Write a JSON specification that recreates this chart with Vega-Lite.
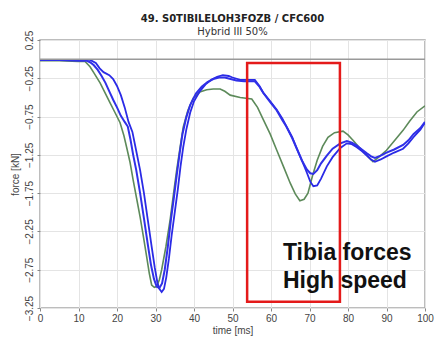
{
  "$schema": "https://vega.github.io/schema/vega-lite/v6.json",
  "width": 385,
  "height": 268,
  "autosize": {"type": "none"},
  "padding": {"left": 40, "top": 40, "right": 20, "bottom": 32},
  "background": "white",
  "config": {
    "font": "Liberation Sans",
    "view": {"stroke": "#a8a8a8", "strokeWidth": 1.5},
    "axis": {"grid": true, "gridColor": "#e4e4e4", "gridWidth": 1, "domain": false, "tickColor": "#888", "tickSize": 3, "labelColor": "#444", "labelFontSize": 10, "labelOverlap": false, "labelFlush": false, "titleColor": "#444", "titleFontSize": 10, "titleFontWeight": "normal"}
  },
  "title": {"text": "49. S0TIBILELOH3FOZB / CFC600", "subtitle": "Hybrid III 50%", "font": "DejaVu Sans", "subtitleFont": "DejaVu Sans", "fontSize": 10, "fontWeight": "bold", "color": "#222", "subtitleFontSize": 10, "subtitleColor": "#333", "anchor": "middle", "offset": -7, "subtitlePadding": 3},
  "datasets": {
    "curves": [
      {"s":"G","t":0,"f":-0.02},{"s":"G","t":5,"f":-0.02},{"s":"G","t":10,"f":-0.03},{"s":"G","t":11.7,"f":-0.03},{"s":"G","t":13,"f":-0.10},{"s":"G","t":14,"f":-0.18},{"s":"G","t":15.6,"f":-0.31},{"s":"G","t":17,"f":-0.45},{"s":"G","t":18.2,"f":-0.57},{"s":"G","t":19.5,"f":-0.70},{"s":"G","t":20.8,"f":-0.83},{"s":"G","t":21.8,"f":-1.0},{"s":"G","t":22.5,"f":-1.15},{"s":"G","t":23.4,"f":-1.35},{"s":"G","t":24.2,"f":-1.58},{"s":"G","t":25.1,"f":-1.82},{"s":"G","t":26,"f":-2.06},{"s":"G","t":26.9,"f":-2.33},{"s":"G","t":27.7,"f":-2.58},{"s":"G","t":28.4,"f":-2.80},{"s":"G","t":29,"f":-2.95},{"s":"G","t":29.7,"f":-2.98},{"s":"G","t":30.3,"f":-2.97},{"s":"G","t":31,"f":-2.88},{"s":"G","t":31.6,"f":-2.75},{"s":"G","t":32.7,"f":-2.45},{"s":"G","t":33.8,"f":-2.1},{"s":"G","t":34.7,"f":-1.75},{"s":"G","t":35.5,"f":-1.45},{"s":"G","t":36.4,"f":-1.15},{"s":"G","t":37.2,"f":-0.89},{"s":"G","t":38.4,"f":-0.67},{"s":"G","t":39.8,"f":-0.51},{"s":"G","t":41.5,"f":-0.43},{"s":"G","t":43.3,"f":-0.40},{"s":"G","t":45,"f":-0.39},{"s":"G","t":46.8,"f":-0.39},{"s":"G","t":48,"f":-0.42},{"s":"G","t":49.4,"f":-0.47},{"s":"G","t":52,"f":-0.50},{"s":"G","t":55,"f":-0.52},{"s":"G","t":56.5,"f":-0.63},{"s":"G","t":58,"f":-0.79},{"s":"G","t":59.8,"f":-0.98},{"s":"G","t":61.5,"f":-1.19},{"s":"G","t":63.3,"f":-1.41},{"s":"G","t":65,"f":-1.62},{"s":"G","t":66.3,"f":-1.76},{"s":"G","t":67.5,"f":-1.85},{"s":"G","t":68.6,"f":-1.83},{"s":"G","t":69.6,"f":-1.75},{"s":"G","t":70.8,"f":-1.52},{"s":"G","t":72,"f":-1.32},{"s":"G","t":73.4,"f":-1.14},{"s":"G","t":74.8,"f":-1.02},{"s":"G","t":76.5,"f":-0.96},{"s":"G","t":78.7,"f":-0.94},{"s":"G","t":80,"f":-0.99},{"s":"G","t":81.3,"f":-1.06},{"s":"G","t":82.7,"f":-1.14},{"s":"G","t":84,"f":-1.21},{"s":"G","t":85.3,"f":-1.28},{"s":"G","t":86.5,"f":-1.34},{"s":"G","t":88,"f":-1.28},{"s":"G","t":90,"f":-1.19},{"s":"G","t":92,"f":-1.07},{"s":"G","t":94.3,"f":-0.93},{"s":"G","t":96,"f":-0.81},{"s":"G","t":97.9,"f":-0.69},{"s":"G","t":100,"f":-0.61},

      {"s":"A","t":0,"f":-0.01},{"s":"A","t":5,"f":-0.01},{"s":"A","t":10,"f":-0.01},{"s":"A","t":13,"f":-0.01},{"s":"A","t":14.5,"f":-0.05},{"s":"A","t":15.5,"f":-0.12},{"s":"A","t":16.5,"f":-0.17},{"s":"A","t":18,"f":-0.21},{"s":"A","t":19,"f":-0.26},{"s":"A","t":20,"f":-0.35},{"s":"A","t":21,"f":-0.47},{"s":"A","t":22,"f":-0.63},{"s":"A","t":23,"f":-0.82},{"s":"A","t":24,"f":-0.95},{"s":"A","t":25,"f":-1.2},{"s":"A","t":26,"f":-1.45},{"s":"A","t":27,"f":-1.75},{"s":"A","t":28,"f":-2.1},{"s":"A","t":29,"f":-2.45},{"s":"A","t":29.8,"f":-2.72},{"s":"A","t":30.5,"f":-2.92},{"s":"A","t":31,"f":-3.0},{"s":"A","t":31.6,"f":-3.04},{"s":"A","t":32.2,"f":-3.0},{"s":"A","t":32.8,"f":-2.85},{"s":"A","t":33.5,"f":-2.6},{"s":"A","t":34.2,"f":-2.3},{"s":"A","t":35,"f":-2.0},{"s":"A","t":35.8,"f":-1.7},{"s":"A","t":36.5,"f":-1.4},{"s":"A","t":37.2,"f":-1.15},{"s":"A","t":38,"f":-0.92},{"s":"A","t":39,"f":-0.7},{"s":"A","t":40,"f":-0.55},{"s":"A","t":41.5,"f":-0.42},{"s":"A","t":43,"f":-0.33},{"s":"A","t":44.5,"f":-0.27},{"s":"A","t":46,"f":-0.23},{"s":"A","t":47.5,"f":-0.21},{"s":"A","t":49,"f":-0.22},{"s":"A","t":50,"f":-0.24},{"s":"A","t":52,"f":-0.27},{"s":"A","t":54,"f":-0.27},{"s":"A","t":55.8,"f":-0.27},{"s":"A","t":57,"f":-0.35},{"s":"A","t":58,"f":-0.44},{"s":"A","t":59.8,"f":-0.55},{"s":"A","t":61.5,"f":-0.66},{"s":"A","t":63,"f":-0.78},{"s":"A","t":64,"f":-0.88},{"s":"A","t":65.5,"f":-1.02},{"s":"A","t":66.8,"f":-1.18},{"s":"A","t":68,"f":-1.32},{"s":"A","t":69.3,"f":-1.48},{"s":"A","t":70.2,"f":-1.6},{"s":"A","t":71,"f":-1.66},{"s":"A","t":72,"f":-1.65},{"s":"A","t":73,"f":-1.56},{"s":"A","t":74.5,"f":-1.4},{"s":"A","t":76,"f":-1.28},{"s":"A","t":78,"f":-1.16},{"s":"A","t":79.7,"f":-1.1},{"s":"A","t":81,"f":-1.11},{"s":"A","t":82.3,"f":-1.15},{"s":"A","t":83.6,"f":-1.2},{"s":"A","t":84.9,"f":-1.26},{"s":"A","t":86,"f":-1.31},{"s":"A","t":87,"f":-1.34},{"s":"A","t":88.5,"f":-1.31},{"s":"A","t":90,"f":-1.27},{"s":"A","t":92,"f":-1.22},{"s":"A","t":94.3,"f":-1.17},{"s":"A","t":95.7,"f":-1.1},{"s":"A","t":97,"f":-1.02},{"s":"A","t":98.8,"f":-0.92},{"s":"A","t":100,"f":-0.83},

      {"s":"B","t":0,"f":-0.01},{"s":"B","t":5,"f":-0.01},{"s":"B","t":10,"f":-0.02},{"s":"B","t":12,"f":-0.02},{"s":"B","t":13,"f":-0.04},{"s":"B","t":14,"f":-0.08},{"s":"B","t":15,"f":-0.14},{"s":"B","t":16,"f":-0.22},{"s":"B","t":17,"f":-0.31},{"s":"B","t":18,"f":-0.42},{"s":"B","t":19,"f":-0.53},{"s":"B","t":20,"f":-0.63},{"s":"B","t":21,"f":-0.74},{"s":"B","t":22,"f":-0.82},{"s":"B","t":22.8,"f":-0.88},{"s":"B","t":23.5,"f":-1.05},{"s":"B","t":24.2,"f":-1.25},{"s":"B","t":25,"f":-1.45},{"s":"B","t":26,"f":-1.75},{"s":"B","t":27,"f":-2.08},{"s":"B","t":28,"f":-2.42},{"s":"B","t":28.8,"f":-2.68},{"s":"B","t":29.6,"f":-2.87},{"s":"B","t":30.3,"f":-2.97},{"s":"B","t":31,"f":-2.99},{"s":"B","t":31.7,"f":-2.93},{"s":"B","t":32.4,"f":-2.75},{"s":"B","t":33.2,"f":-2.45},{"s":"B","t":34,"f":-2.1},{"s":"B","t":34.8,"f":-1.8},{"s":"B","t":35.5,"f":-1.52},{"s":"B","t":36.3,"f":-1.22},{"s":"B","t":37,"f":-0.98},{"s":"B","t":38,"f":-0.76},{"s":"B","t":39,"f":-0.6},{"s":"B","t":40.5,"f":-0.45},{"s":"B","t":42,"f":-0.36},{"s":"B","t":43.5,"f":-0.3},{"s":"B","t":45,"f":-0.26},{"s":"B","t":46.5,"f":-0.24},{"s":"B","t":48,"f":-0.24},{"s":"B","t":49.5,"f":-0.26},{"s":"B","t":51,"f":-0.28},{"s":"B","t":53,"f":-0.29},{"s":"B","t":55.8,"f":-0.29},{"s":"B","t":57,"f":-0.36},{"s":"B","t":58,"f":-0.44},{"s":"B","t":59.8,"f":-0.56},{"s":"B","t":61.5,"f":-0.67},{"s":"B","t":63,"f":-0.8},{"s":"B","t":64,"f":-0.88},{"s":"B","t":65.5,"f":-1.03},{"s":"B","t":66.8,"f":-1.18},{"s":"B","t":68,"f":-1.32},{"s":"B","t":69.3,"f":-1.44},{"s":"B","t":70.2,"f":-1.49},{"s":"B","t":71,"f":-1.5},{"s":"B","t":72,"f":-1.45},{"s":"B","t":73,"f":-1.36},{"s":"B","t":74.5,"f":-1.26},{"s":"B","t":76,"f":-1.17},{"s":"B","t":78,"f":-1.1},{"s":"B","t":79.7,"f":-1.07},{"s":"B","t":81,"f":-1.09},{"s":"B","t":82.3,"f":-1.13},{"s":"B","t":83.6,"f":-1.18},{"s":"B","t":84.9,"f":-1.23},{"s":"B","t":86,"f":-1.27},{"s":"B","t":87,"f":-1.29},{"s":"B","t":88.5,"f":-1.26},{"s":"B","t":90,"f":-1.22},{"s":"B","t":92,"f":-1.18},{"s":"B","t":94.3,"f":-1.12},{"s":"B","t":95.7,"f":-1.06},{"s":"B","t":97,"f":-0.98},{"s":"B","t":98.8,"f":-0.9},{"s":"B","t":100,"f":-0.82}
    ],
    "box": [{"x1": 53.8, "x2": 77.9, "y1": -0.05, "y2": -3.17}],
    "notes": [{"t": 63.1, "f": -2.62, "label": "Tibia forces"}, {"t": 63.1, "f": -2.99, "label": "High speed"}]
  },
  "layer": [
    {
      "data": {"name": "curves"},
      "mark": {"type": "line", "clip": true},
      "encoding": {
        "x": {"field": "t", "type": "quantitative", "scale": {"domain": [0, 100], "nice": false}, "axis": {"values": [0,10,20,30,40,50,60,70,80,90,100], "tickCount": 30, "labelOverlap": false, "title": "time [ms]", "labelPadding": 2, "titlePadding": 2}},
        "y": {"field": "f", "type": "quantitative", "scale": {"domain": [-3.25, 0.25], "nice": false, "zero": false}, "axis": {"values": [0.25,-0.25,-0.75,-1.25,-1.75,-2.25,-2.75,-3.25], "tickCount": 30, "labelOverlap": false, "format": ".2f", "labelAngle": 270, "labelAlign": "center", "labelBaseline": "bottom", "labelPadding": 3, "title": "force [kN]", "titlePadding": 4}},
        "detail": {"field": "s"},
        "color": {"field": "s", "type": "nominal", "scale": {"domain": ["G","A","B"], "range": ["#5d8a5a", "#2a2ae6", "#3030e8"]}, "legend": null},
        "strokeWidth": {"field": "s", "type": "nominal", "scale": {"domain": ["G","A","B"], "range": [1.6, 2, 2]}, "legend": null}
      }
    },
    {
      "mark": {"type": "rule", "color": "#999", "strokeWidth": 1.5},
      "data": {"values": [{"z": 0}]},
      "encoding": {"y": {"datum": 0}}
    },
    {
      "data": {"name": "box"},
      "mark": {"type": "rect", "fill": null, "fillOpacity": 0, "stroke": "#e41a1a", "strokeWidth": 2.5},
      "encoding": {
        "x": {"field": "x1", "type": "quantitative"},
        "x2": {"field": "x2"},
        "y": {"field": "y1", "type": "quantitative"},
        "y2": {"field": "y2"}
      }
    },
    {
      "data": {"name": "notes"},
      "mark": {"type": "text", "align": "left", "baseline": "alphabetic", "fontSize": 23, "fontWeight": "bold", "color": "#111"},
      "encoding": {
        "x": {"field": "t", "type": "quantitative"},
        "y": {"field": "f", "type": "quantitative"},
        "text": {"field": "label"}
      }
    }
  ]
}
